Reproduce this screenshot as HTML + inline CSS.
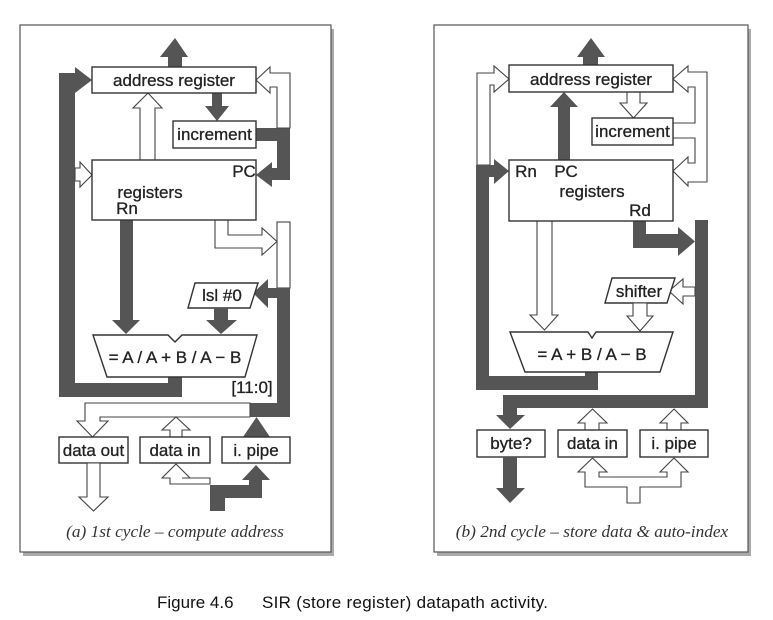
<!DOCTYPE html>
<html><head><meta charset="utf-8"><style>
html,body{margin:0;padding:0;background:#fff;width:773px;height:620px;overflow:hidden}
svg{display:block}
.d{fill:#555;stroke:none}
.h{fill:#fff;stroke:#444;stroke-width:1.1}
.b{fill:#fff;stroke:#333;stroke-width:1.4}
.t{font-family:"Liberation Sans",Arial,sans-serif;font-size:17px;fill:#222;stroke:#222;stroke-width:0.3}
.c{font-family:"Liberation Serif",serif;font-style:italic;font-size:17.3px;fill:#333}
</style></head><body>
<svg width="773" height="620" viewBox="0 0 773 620" xmlns="http://www.w3.org/2000/svg">
<rect x="23" y="29" width="311" height="527" fill="#aaa"/>
<rect x="20" y="25" width="311" height="527" fill="#fff" stroke="#555" stroke-width="1.2"/>
<rect x="437" y="29" width="314" height="527" fill="#aaa"/>
<rect x="434" y="25" width="314" height="527" fill="#fff" stroke="#555" stroke-width="1.2"/>

<!-- ===== Panel (a) ===== -->
<polygon class="d" points="175,38 188,57 182,57 182,67 168,67 168,57 160,57"/>
<polygon class="d" points="59,73 75,73 75,67 92,80 75,93 75,383 168,383 168,377 182,377 182,397 59,397"/>
<polygon class="d" points="212,93 222,93 222,106 229,106 217,121 205,106 212,106"/>
<polygon class="d" points="256,128 290,128 290,180 272,180 272,187 256,175 272,162 272,168 277,168 277,141 256,141"/>
<polygon class="h" points="256,80 270,67 270,73 290,73 290,128 277,128 277,87 270,87 270,93"/>
<polygon class="h" points="140,160 155,160 155,108 162,108 148,93 133,108 140,108"/>
<polygon class="h" points="75,168 80,168 80,162 92,175 80,187 80,181 75,181"/>
<polygon class="d" points="120,220 133,220 133,320 140,320 126,334 112,320 120,320"/>
<polygon class="h" points="215,220 228,220 228,235 262,235 262,228 277,241.5 262,255 262,248 215,248"/>
<rect class="h" x="277" y="222" width="13" height="66"/>
<polygon class="d" points="290,288 290,417 250,417 250,403 277,403 277,298 268,298 268,308 253,293 268,279 268,288"/>
<polygon class="d" points="243,437 256.5,417 270,437 263,437 263,440 250,440 250,437"/>
<polygon class="h" points="85,403 250,403 250,417 100,417 100,421 108,421 92.5,437 77,421 85,421"/>
<polygon class="h" points="170,437 182,437 182,430 190,430 176,417 162,430 170,430"/>
<polygon class="b" points="195,283 258,283 250,308 188,308"/>
<text class="t" x="222" y="301" text-anchor="middle">lsl #0</text>
<polygon class="d" points="214,308 228,308 228,320 237,320 221,334 206,320 214,320"/>
<polygon class="b" points="93,335 168,335 175,342 182,335 257,335 245,377 107,377"/>
<text class="t" x="175" y="363" text-anchor="middle">= A / A + B / A − B</text>
<text class="t" x="252" y="393" text-anchor="middle">[11:0]</text>
<rect class="b" x="92" y="67" width="164" height="26"/>
<text class="t" x="174" y="86" text-anchor="middle">address register</text>
<rect class="b" x="173" y="121" width="83" height="27"/>
<text class="t" x="214.5" y="140" text-anchor="middle">increment</text>
<rect class="b" x="92" y="160" width="164" height="60"/>
<text class="t" x="244" y="177" text-anchor="middle">PC</text>
<text class="t" x="150" y="198" text-anchor="middle">registers</text>
<text class="t" x="127" y="214" text-anchor="middle">Rn</text>
<rect class="b" x="59" y="437" width="69" height="26"/>
<text class="t" x="93.5" y="456" text-anchor="middle">data out</text>
<rect class="b" x="140" y="437" width="70" height="26"/>
<text class="t" x="175" y="456" text-anchor="middle">data in</text>
<rect class="b" x="222" y="437" width="68" height="26"/>
<text class="t" x="256" y="456" text-anchor="middle">i. pipe</text>
<polygon class="h" points="87,463 100,463 100,497 108,497 93.5,511 79,497 87,497"/>
<polygon class="h" points="170,484 210,484 210,478 182,478 190,478 176,464 162,478 170,478"/>
<polygon class="d" points="210,485 249,485 249,480 242,480 256,465 270,480 262,480 262,498 225,498 225,511 210,511"/>
<text class="c" x="175" y="537" text-anchor="middle">(a) 1st cycle – compute address</text>

<!-- ===== Panel (b) ===== -->
<polygon class="d" points="591,38 605,57 598,57 598,65 583,65 583,57 577,57"/>
<polygon class="h" points="477,165 477,73 494,73 494,66 509,79 494,92 494,85 490,85 490,165"/>
<polygon class="d" points="476,165 494,165 494,159 509,171 494,184 494,177 489,177 489,376 585,376 585,372 598,372 598,390 476,390"/>
<polygon class="d" points="558,160 570,160 570,107 578,107 564,92 550,107 558,107"/>
<polygon class="h" points="627,92 640,92 640,103 647,103 633.5,118 620,103 627,103"/>
<polygon class="h" points="673,79 688,66 688,72 707,72 707,182 688,182 688,186 673,171 688,157 688,163 695,163 695,138 673,138 673,123 695,123 695,87 688,87 688,92"/>
<polygon class="h" points="537,221 552,221 552,315 558,315 544.5,330 530,315 537,315"/>
<polygon class="d" points="633,221 646,221 646,234 678,234 678,227 695,241.5 678,256 678,248 633,248"/>
<polygon class="d" points="695,220 708,220 708,408 517,408 517,415 525,415 510,429 496,415 503,415 503,395 695,395"/>
<polygon class="h" points="695,287 683,287 683,279 669,291 683,304 683,296 695,296"/>
<polygon class="b" points="612,278 675,278 667,303 605,303"/>
<text class="t" x="639" y="297" text-anchor="middle">shifter</text>
<polygon class="h" points="633,303 647,303 647,316 653,316 640,331 627,316 633,316"/>
<polygon class="b" points="510,332 588,332 592,338 596,332 673,332 660,372 525,372"/>
<text class="t" x="592" y="360" text-anchor="middle">= A + B / A − B</text>
<rect class="b" x="509" y="65" width="164" height="27"/>
<text class="t" x="591" y="85" text-anchor="middle">address register</text>
<rect class="b" x="592" y="118" width="81" height="27"/>
<text class="t" x="632.5" y="137" text-anchor="middle">increment</text>
<rect class="b" x="509" y="160" width="164" height="61"/>
<text class="t" x="526" y="177" text-anchor="middle">Rn</text>
<text class="t" x="566" y="177" text-anchor="middle">PC</text>
<text class="t" x="592" y="197" text-anchor="middle">registers</text>
<text class="t" x="640" y="216" text-anchor="middle">Rd</text>
<polygon class="h" points="585,430 599,430 599,423 607,423 592.5,409 578,423 585,423"/>
<polygon class="h" points="667,430 681,430 681,423 688,423 674,409 660,423 667,423"/>
<rect class="b" x="477" y="430" width="68" height="27"/>
<text class="t" x="511" y="449" text-anchor="middle">byte?</text>
<rect class="b" x="558" y="430" width="69" height="27"/>
<text class="t" x="592.5" y="449" text-anchor="middle">data in</text>
<rect class="b" x="640" y="430" width="68" height="27"/>
<text class="t" x="674" y="449" text-anchor="middle">i. pipe</text>
<polygon class="d" points="503,457 517,457 517,488 525,488 510,503 496,488 503,488"/>
<polygon class="h" points="585,487 627,487 627,503 640,503 640,487 681,487 681,472 688,472 674,458 660,472 667,472 667,477 599,477 599,472 607,472 592.5,458 578,472 585,472"/>
<text class="c" x="592" y="537" text-anchor="middle">(b) 2nd cycle – store data &amp; auto-index</text>

<text x="157" y="608" style="font-family:'Liberation Sans',Arial,sans-serif;font-size:17px;fill:#111">Figure 4.6</text>
<text x="262" y="608" textLength="286" style="font-family:'Liberation Sans',Arial,sans-serif;font-size:17px;fill:#111">SIR (store register) datapath activity.</text>
</svg>
</body></html>
